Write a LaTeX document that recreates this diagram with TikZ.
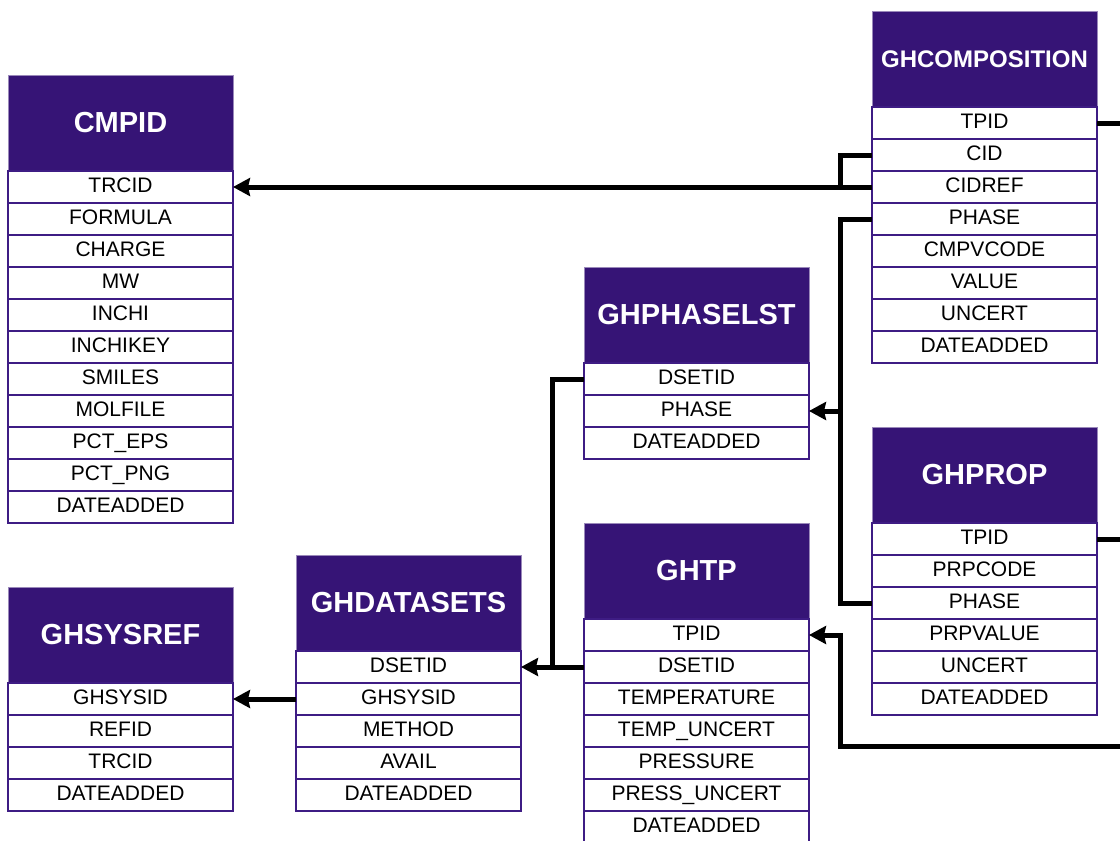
\documentclass[tikz,border=0pt]{standalone}
\usepackage{fontspec}
\setmainfont{Liberation Sans}
\usetikzlibrary{arrows.meta,calc}
\definecolor{hdrpurple}{RGB}{54,20,118}
\definecolor{rowline}{RGB}{62,28,132}
\tikzset{
  hdr/.style={draw=hdrpurple!50!white, line width=0.8pt, fill=hdrpurple, text=white,
    font=\fontsize{29}{32}\selectfont\bfseries, minimum width=225pt, minimum height=96pt,
    inner sep=0pt, outer sep=0pt, anchor=north west},
  fld/.style={draw=rowline, line width=2pt, fill=white, text=black,
    font=\fontsize{21}{24}\selectfont, minimum width=225pt, minimum height=32pt,
    text height=15pt, text depth=4pt,
    inner sep=0pt, outer sep=0pt, anchor=north west},
  link/.style={line width=5pt, black},
  arr/.style={link, -{Stealth[length=17pt,width=18pt,inset=2pt]}},
}
\newcommand\ertable[5]{%
  \node[hdr] (#1) at (#2,#3) {#4};
  \foreach \fieldname [count=\fieldi] in {#5}{%
    \node[fld] (#1-\fieldi) at (#2,{#3+96+32*(\fieldi-1)}) {\fieldname};
  }%
}
\begin{document}
\begin{tikzpicture}[x=1pt,y=-1pt]
\useasboundingbox (0,0) rectangle (1120,841);
\clip (0,0) rectangle (1120,841);
% tables
\ertable{cm}{8}{75}{CMPID}{TRCID,FORMULA,CHARGE,MW,INCHI,INCHIKEY,SMILES,MOLFILE,PCT\_EPS,PCT\_PNG,DATEADDED}
\ertable{gs}{8}{587}{GHSYSREF}{GHSYSID,REFID,TRCID,DATEADDED}
\ertable{gd}{296}{555}{GHDATASETS}{DSETID,GHSYSID,METHOD,AVAIL,DATEADDED}
\ertable{gph}{584}{267}{GHPHASELST}{DSETID,PHASE,DATEADDED}
\ertable{gt}{584}{523}{GHTP}{TPID,DSETID,TEMPERATURE,TEMP\_UNCERT,PRESSURE,PRESS\_UNCERT,DATEADDED}
\ertable{gc}{872}{11}{\fontsize{24}{26}\selectfont GHCOMPOSITION}{TPID,CID,CIDREF,PHASE,CMPVCODE,VALUE,UNCERT,DATEADDED}
\ertable{gp}{872}{427}{GHPROP}{TPID,PRPCODE,PHASE,PRPVALUE,UNCERT,DATEADDED}
% helper coordinates
\coordinate (busCID) at ($(gc-3.west)+(-32,0)$);
\coordinate (busPH) at ($(gp-3.west)+(-32,0)$);
\coordinate (busDS) at ($(gt-2.west)+(-32,0)$);
\coordinate (busTP) at ($(gt-1.east)+(31,0)$);
\coordinate (edgeA) at (1120,123);
\coordinate (edgeB) at (1120,539);
\coordinate (edgeC) at (1120,746);
% connectors
\draw[arr] (gc-3.west) -- (cm-1.east);
\draw[link] (gc-2.west) -| (busCID);
\draw[link] (gc-4.west) -| (busPH) -- (gp-3.west);
\draw[arr] (busPH |- gph-2.east) -- (gph-2.east);
\draw[link] (gph-1.west) -| (busDS);
\draw[arr] (gt-2.west) -- (gd-1.east);
\draw[arr] (gd-2.west) -- (gs-1.east);
\draw[arr] (edgeC) -| (busTP) -- (gt-1.east);
\draw[link] (gc-1.east) -- (edgeA);
\draw[link] (gp-1.east) -- (edgeB);
\end{tikzpicture}
\end{document}
